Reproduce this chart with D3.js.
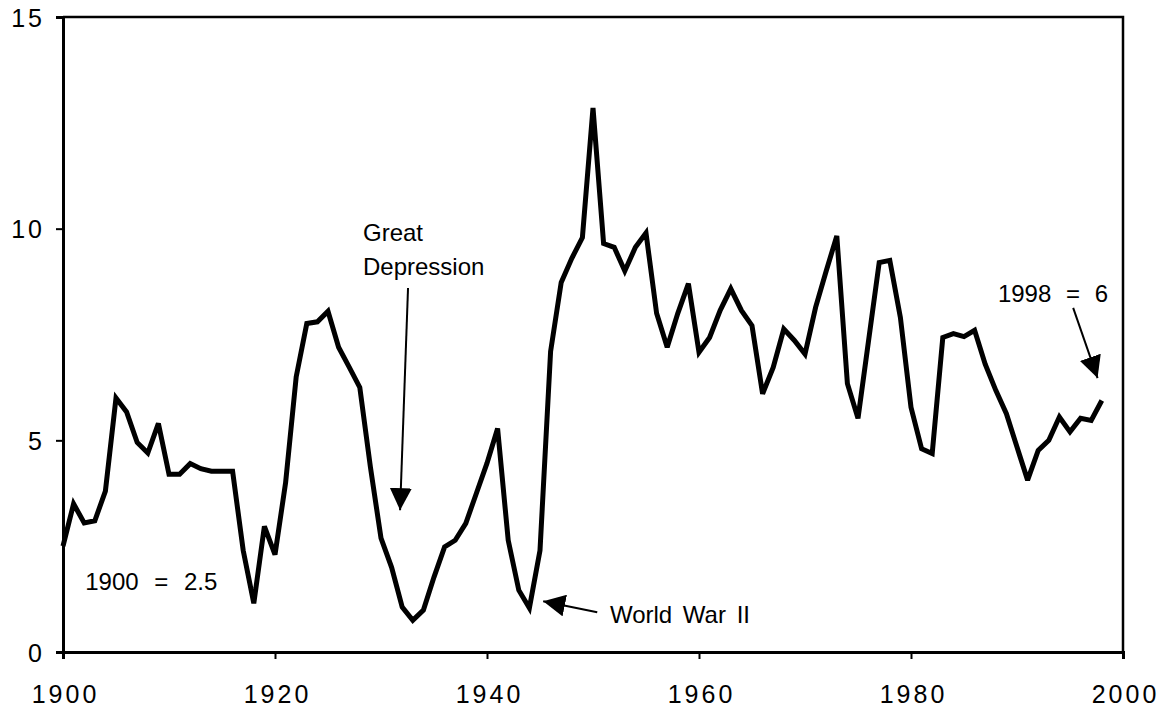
<!DOCTYPE html>
<html>
<head>
<meta charset="utf-8">
<script src="https://cdn.jsdelivr.net/npm/d3@7"></script>
<style>
	body { margin: 0; background: #fff; }
	#chart { width: 1167px; height: 710px; }
	text { font-family: "Liberation Sans", Arial, Helvetica, sans-serif; fill: #000; }
	.tick-label { font-size: 25px; letter-spacing: 3px; }
	.note { font-size: 24px; }
</style>
</head>
<body>
<div id="chart"></div>
<script>
const years = [
	1900, 1901, 1902, 1903, 1904, 1905, 1906, 1907, 1908, 1909,
	1910, 1911, 1912, 1913, 1914, 1915, 1916, 1917, 1918, 1919,
	1920, 1921, 1922, 1923, 1924, 1925, 1926, 1927, 1928, 1929,
	1930, 1931, 1932, 1933, 1934, 1935, 1936, 1937, 1938, 1939,
	1940, 1941, 1942, 1943, 1944, 1945, 1946, 1947, 1948, 1949,
	1950, 1951, 1952, 1953, 1954, 1955, 1956, 1957, 1958, 1959,
	1960, 1961, 1962, 1963, 1964, 1965, 1966, 1967, 1968, 1969,
	1970, 1971, 1972, 1973, 1974, 1975, 1976, 1977, 1978, 1979,
	1980, 1981, 1982, 1983, 1984, 1985, 1986, 1987, 1988, 1989,
	1990, 1991, 1992, 1993, 1994, 1995, 1996, 1997, 1998
];
const values = [
	2.5, 3.5, 3.05, 3.1, 3.8, 6.0, 5.67, 4.95, 4.7, 5.4,
	4.2, 4.2, 4.45, 4.33, 4.27, 4.27, 4.27, 2.4, 1.15, 2.97,
	2.3, 4.0, 6.5, 7.76, 7.8, 8.05, 7.2, 6.73, 6.25, 4.37,
	2.69, 2.0, 1.06, 0.75, 0.99, 1.77, 2.48, 2.64, 3.04, 3.75,
	4.46, 5.28, 2.64, 1.46, 1.04, 2.4, 7.1, 8.73, 9.3, 9.79,
	12.85, 9.65, 9.56, 9.0, 9.56, 9.9, 8.0, 7.2, 8.0, 8.7,
	7.08, 7.43, 8.07, 8.58, 8.07, 7.71, 6.1, 6.72, 7.63, 7.36,
	7.04, 8.14, 9.0, 9.83, 6.34, 5.52, 7.36, 9.2, 9.25, 7.9,
	5.78, 4.8, 4.69, 7.43, 7.52, 7.45, 7.6, 6.8, 6.18, 5.63,
	4.84, 4.06, 4.76, 5.0, 5.55, 5.2, 5.52, 5.47, 5.94
];
const xTicks = [1900, 1920, 1940, 1960, 1980, 2000];
const yTicks = [0, 5, 10, 15];

// annotation text, anchored in data units
const noteLines = [
	{ text: "1900 = 2.5", year: 1902.1, value: 1.46, spacing: 9 },
	{ text: "Great", year: 1928.3, value: 9.71, spacing: 0 },
	{ text: "Depression", year: 1928.3, value: 8.9, spacing: 0 },
	{ text: "World War II", year: 1951.6, value: 0.69, spacing: 4 },
	{ text: "1998 = 6", year: 1988.2, value: 8.27, spacing: 8 }
];
const noteArrows = [
	{ fromYear: 1932.55, fromValue: 8.6, toYear: 1931.8, toValue: 3.35 },
	{ fromYear: 1950.4, fromValue: 0.94, toYear: 1945.3, toValue: 1.2 },
	{ fromYear: 1995.3, fromValue: 8.13, toYear: 1997.6, toValue: 6.47 }
];

const data = years.map((y, i) => ({ year: y, value: values[i] }));

const width = 1167;
const height = 710;
const margin = { top: 17, right: 44, bottom: 58, left: 63 };

const xScale = d3.scaleLinear()
	.domain([1900, 2000])
	.range([margin.left, width - margin.right]);

const yScale = d3.scaleLinear()
	.domain([0, 15])
	.range([height - margin.bottom, margin.top]);

const svg = d3.select("#chart")
	.append("svg")
	.attr("width", width)
	.attr("height", height);

// frame (top and right)
svg.append("path")
	.attr("d", `M${xScale(1900)},${yScale(15)}H${xScale(2000)}V${yScale(0)}`)
	.attr("fill", "none")
	.attr("stroke", "#000")
	.attr("stroke-width", 2.5);

// axes
const xAxis = svg.append("g")
	.attr("transform", `translate(0, ${yScale(0)})`)
	.call(d3.axisBottom(xScale).tickValues(xTicks).tickSize(7).tickFormat(d3.format("d")));

const yAxis = svg.append("g")
	.attr("transform", `translate(${xScale(1900)}, 0)`)
	.call(d3.axisLeft(yScale).tickValues(yTicks).tickSize(7));

svg.selectAll(".domain")
	.attr("stroke", "#000")
	.attr("stroke-width", 3);
svg.selectAll(".tick line")
	.attr("stroke", "#000")
	.attr("stroke-width", 2);
svg.selectAll(".tick text")
	.attr("class", "tick-label")
	.attr("font-family", null)
	.attr("font-size", null);

xAxis.selectAll("text").attr("dy", 0).attr("y", 51).attr("dx", 2);
yAxis.selectAll("text").attr("x", -18).attr("dy", "0.36em");

// the series
const line = d3.line()
	.x(d => xScale(d.year))
	.y(d => yScale(d.value));

svg.append("path")
	.datum(data)
	.attr("d", line)
	.attr("fill", "none")
	.attr("stroke", "#000")
	.attr("stroke-width", 5)
	.attr("stroke-linejoin", "miter")
	.attr("stroke-miterlimit", 3);

// annotations
svg.append("defs")
	.append("marker")
	.attr("id", "head")
	.attr("viewBox", "0 0 10 10")
	.attr("refX", 10)
	.attr("refY", 5)
	.attr("markerUnits", "userSpaceOnUse")
	.attr("markerWidth", 22)
	.attr("markerHeight", 22)
	.attr("orient", "auto")
	.append("path")
	.attr("d", "M0,0L10,5L0,10Z")
	.attr("fill", "#000");

svg.selectAll(".arrow")
	.data(noteArrows)
	.enter()
	.append("line")
	.attr("class", "arrow")
	.attr("x1", d => xScale(d.fromYear))
	.attr("y1", d => yScale(d.fromValue))
	.attr("x2", d => xScale(d.toYear))
	.attr("y2", d => yScale(d.toValue))
	.attr("stroke", "#000")
	.attr("stroke-width", 2)
	.attr("marker-end", "url(#head)");

svg.selectAll(".note")
	.data(noteLines)
	.enter()
	.append("text")
	.attr("class", "note")
	.attr("x", d => xScale(d.year))
	.attr("y", d => yScale(d.value))
	.style("word-spacing", d => `${d.spacing}px`)
	.text(d => d.text);
</script>
</body>
</html>
